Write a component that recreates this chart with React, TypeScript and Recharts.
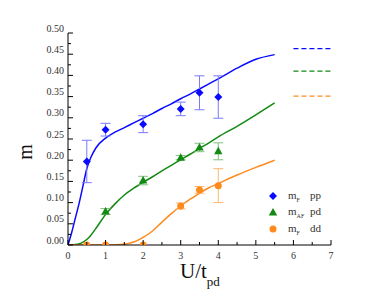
import React from "react";
import {
  ComposedChart,
  Line,
  Scatter,
  ErrorBar,
  XAxis,
  YAxis,
  Legend,
  Label,
} from "recharts";

// Curvas teóricas (x común)
const curveX = [0, 0.1, 0.2, 0.3, 0.4, 0.5, 0.6, 0.75, 1, 1.25, 1.5, 1.75, 2, 2.25, 2.5, 2.75, 3, 3.25, 3.5, 3.75, 4, 4.5, 5, 5.5];
const curvePP = [0, 0.03, 0.065, 0.1, 0.14, 0.18, 0.205, 0.23, 0.252, 0.266, 0.277, 0.288, 0.299, 0.31, 0.322, 0.333, 0.345, 0.356, 0.368, 0.38, 0.392, 0.417, 0.438, 0.449];
const curvePD = [0, 0, 0.001, 0.003, 0.007, 0.013, 0.022, 0.04, 0.072, 0.097, 0.118, 0.134, 0.148, 0.161, 0.175, 0.188, 0.201, 0.214, 0.228, 0.241, 0.255, 0.28, 0.307, 0.335];
const curveDD = [0, 0, 0, 0, 0, 0, 0, 0, 0, 0.0005, 0.002, 0.007, 0.018, 0.033, 0.054, 0.074, 0.092, 0.108, 0.122, 0.135, 0.145, 0.165, 0.183, 0.2];

// Puntos con barras de error
const ppX = [0.5, 1, 2, 3, 3.5, 4];
const ppY = [0.197, 0.272, 0.285, 0.321, 0.359, 0.349];
const ppErr = [0.05, 0.015, 0.02, 0.016, 0.04, 0.05];

const pdX = [1, 2, 3, 3.5, 4];
const pdY = [0.079, 0.152, 0.206, 0.23, 0.221];
const pdErr = [0.007, 0.01, 0.005, 0.01, 0.02];

const ddX = [0.5, 1, 2, 3, 3.5, 4];
const ddY = [0, 0, 0, 0.092, 0.13, 0.14];
const ddErr = [0, 0, 0, 0.007, 0.008, 0.04];

// Límites (líneas discontinuas a la derecha)
const limitX = [6, 7];
const limitPP = 0.463;
const limitPD = 0.41;
const limitDD = 0.351;

const xTicks = [0, 0.5, 1, 1.5, 2, 2.5, 3, 3.5, 4, 4.5, 5, 5.5, 6, 6.5, 7];
const yTicks = [0, 0.025, 0.05, 0.075, 0.1, 0.125, 0.15, 0.175, 0.2, 0.225, 0.25, 0.275, 0.3, 0.325, 0.35, 0.375, 0.4, 0.425, 0.45, 0.475, 0.5];

const BLUE = "#0a0aff";
const GREEN = "#118a11";
const ORANGE = "#ff8a1c";
const FONT = "'Liberation Serif', 'Times New Roman', serif";

const legendItems = [
  { name: "m", sub: "F", tag: "pp", color: BLUE, shape: "diamond" },
  { name: "m", sub: "AF", tag: "pd", color: GREEN, shape: "triangle" },
  { name: "m", sub: "F", tag: "dd", color: ORANGE, shape: "circle" },
];

const toRows = (xs: number[], ys: number[], es?: number[]) =>
  xs.map((x, i) => ({ x, y: ys[i], e: es ? es[i] : 0 }));

const isMajorX = (v: number) => Number.isInteger(v);
const isMajorY = (v: number) => Math.round(v * 1000) % 50 === 0;

const BottomTick = (props: any) => {
  const { x, y, payload } = props;
  const major = isMajorX(payload.value);
  return (
    <g>
      <line x1={x} x2={x} y1={y} y2={y - (major ? 5 : 3)} stroke="#000" />
      {major && (
        <text x={x} y={y + 13.5} textAnchor="middle" fontSize={10} fontFamily={FONT} fill="#333">
          {payload.value}
        </text>
      )}
    </g>
  );
};

const TopTick = (props: any) => {
  const { x, y, payload } = props;
  const major = isMajorX(payload.value);
  return <line x1={x} x2={x} y1={y} y2={y + (major ? 5 : 3)} stroke="#000" />;
};

const LeftTick = (props: any) => {
  const { x, y, payload } = props;
  const major = isMajorY(payload.value);
  return (
    <g>
      <line x1={x} x2={x + (major ? 5 : 3)} y1={y} y2={y} stroke="#000" />
      {major && (
        <text x={x - 4} y={y - 1.5} textAnchor="end" fontSize={10} fontFamily={FONT} fill="#333">
          {payload.value.toFixed(2)}
        </text>
      )}
    </g>
  );
};

const RightTick = (props: any) => {
  const { x, y, payload } = props;
  const major = isMajorY(payload.value);
  return <line x1={x} x2={x - (major ? 5 : 3)} y1={y} y2={y} stroke="#000" />;
};

const Diamond = (props: any) => {
  const { cx, cy } = props;
  const r = 4;
  return <polygon points={`${cx},${cy - r} ${cx + r},${cy} ${cx},${cy + r} ${cx - r},${cy}`} fill={BLUE} />;
};

const Triangle = (props: any) => {
  const { cx, cy } = props;
  return <polygon points={`${cx},${cy - 4.5} ${cx + 4.2},${cy + 3} ${cx - 4.2},${cy + 3}`} fill={GREEN} />;
};

const Dot = (props: any) => {
  const { cx, cy } = props;
  return <circle cx={cx} cy={cy} r={3.5} fill={ORANGE} />;
};

const LegendMarker = ({ shape, color }: { shape: string; color: string }) => (
  <svg width={10} height={10} style={{ position: "absolute", left: 3, top: 3 }}>
    {shape === "diamond" && <polygon points="5,1 9,5 5,9 1,5" fill={color} />}
    {shape === "triangle" && <polygon points="5,1 9.2,8.5 0.8,8.5" fill={color} />}
    {shape === "circle" && <circle cx={5} cy={5} r={3.5} fill={color} />}
  </svg>
);

const renderLegend = () => (
  <div style={{ fontFamily: FONT, fontSize: 11, color: "#333", position: "relative", width: 70 }}>
    {legendItems.map((item, i) => (
      <div key={i} style={{ position: "relative", height: 16.3 }}>
        <LegendMarker shape={item.shape} color={item.color} />
        <span style={{ position: "absolute", left: 23, top: 1, lineHeight: "12px" }}>
          m<sub style={{ fontSize: 6, verticalAlign: "-3px" }}>{item.sub}</sub>
        </span>
        <span style={{ position: "absolute", left: 45, top: 1, lineHeight: "12px" }}>{item.tag}</span>
      </div>
    ))}
  </div>
);

export default function App() {
  const pp = curveX.map((x, i) => ({ x, y: curvePP[i] }));
  const pd = curveX.map((x, i) => ({ x, y: curvePD[i] }));
  const dd = curveX.map((x, i) => ({ x, y: curveDD[i] }));

  return (
    <div style={{ position: "absolute", left: 0, top: 0, width: 384, height: 294, background: "#fff" }}>
      <ComposedChart width={384} height={294} margin={{ top: 33, right: 53, left: 0, bottom: 0 }}>
        <XAxis
          dataKey="x"
          type="number"
          domain={[0, 7]}
          ticks={xTicks}
          interval={0}
          height={49}
          tickSize={0}
          tickMargin={0}
          tickLine={false}
          axisLine={{ stroke: "#000" }}
          tick={<BottomTick />}
          allowDataOverflow
        >
          <Label
            content={() => (
              <text x={180} y={278} fontSize={21} fontFamily={FONT} fill="#111">
                U/t
                <tspan fontSize={13} dy={8}>pd</tspan>
              </text>
            )}
          />
        </XAxis>
        <XAxis
          xAxisId="top"
          orientation="top"
          type="number"
          domain={[0, 7]}
          ticks={xTicks}
          interval={0}
          height={0}
          tickSize={0}
          tickMargin={0}
          tickLine={false}
          axisLine={{ stroke: "#000" }}
          tick={<TopTick />}
        />
        <YAxis
          dataKey="y"
          type="number"
          domain={[0, 0.5]}
          ticks={yTicks}
          interval={0}
          width={68}
          tickSize={0}
          tickMargin={0}
          tickLine={false}
          axisLine={{ stroke: "#000" }}
          tick={<LeftTick />}
          allowDataOverflow
        >
          <Label
            content={() => (
              <text
                x={25}
                y={152}
                transform="rotate(-90, 25, 152)"
                textAnchor="middle"
                dominantBaseline="central"
                fontSize={20}
                fontFamily={FONT}
                fill="#111"
              >
                m
              </text>
            )}
          />
        </YAxis>
        <YAxis
          yAxisId="right"
          orientation="right"
          type="number"
          domain={[0, 0.5]}
          ticks={yTicks}
          interval={0}
          width={0}
          tickSize={0}
          tickMargin={0}
          tickLine={false}
          axisLine={{ stroke: "#000" }}
          tick={<RightTick />}
        />

        <Line data={pp} dataKey="y" type="monotone" stroke={BLUE} strokeWidth={1.5} dot={false} isAnimationActive={false} />
        <Line data={pd} dataKey="y" type="monotone" stroke={GREEN} strokeWidth={1.5} dot={false} isAnimationActive={false} />
        <Line data={dd} dataKey="y" type="monotone" stroke={ORANGE} strokeWidth={1.5} dot={false} isAnimationActive={false} />

        <Line data={limitX.map((x) => ({ x, y: limitPP }))} dataKey="y" stroke={BLUE} strokeWidth={1.3} strokeDasharray="5 3" dot={false} isAnimationActive={false} />
        <Line data={limitX.map((x) => ({ x, y: limitPD }))} dataKey="y" stroke={GREEN} strokeWidth={1.3} strokeDasharray="5 3" dot={false} isAnimationActive={false} />
        <Line data={limitX.map((x) => ({ x, y: limitDD }))} dataKey="y" stroke={ORANGE} strokeWidth={1.3} strokeDasharray="5 3" dot={false} isAnimationActive={false} />

        <Scatter data={toRows(ppX, ppY, ppErr)} dataKey="y" shape={<Diamond />} isAnimationActive={false}>
          <ErrorBar dataKey="e" direction="y" width={5} stroke="#7a7aff" strokeWidth={1} />
        </Scatter>
        <Scatter data={toRows(pdX, pdY, pdErr)} dataKey="y" shape={<Triangle />} isAnimationActive={false}>
          <ErrorBar dataKey="e" direction="y" width={5} stroke="#80c080" strokeWidth={1} />
        </Scatter>
        <Scatter data={toRows(ddX, ddY, ddErr)} dataKey="y" shape={<Dot />} isAnimationActive={false}>
          <ErrorBar dataKey="e" direction="y" width={5} stroke="#ffb870" strokeWidth={1} />
        </Scatter>

        <Legend
          layout="horizontal"
          verticalAlign="middle"
          align="center"
          content={renderLegend}
          wrapperStyle={{ left: 265, top: 188, width: 70 }}
        />
      </ComposedChart>
    </div>
  );
}
